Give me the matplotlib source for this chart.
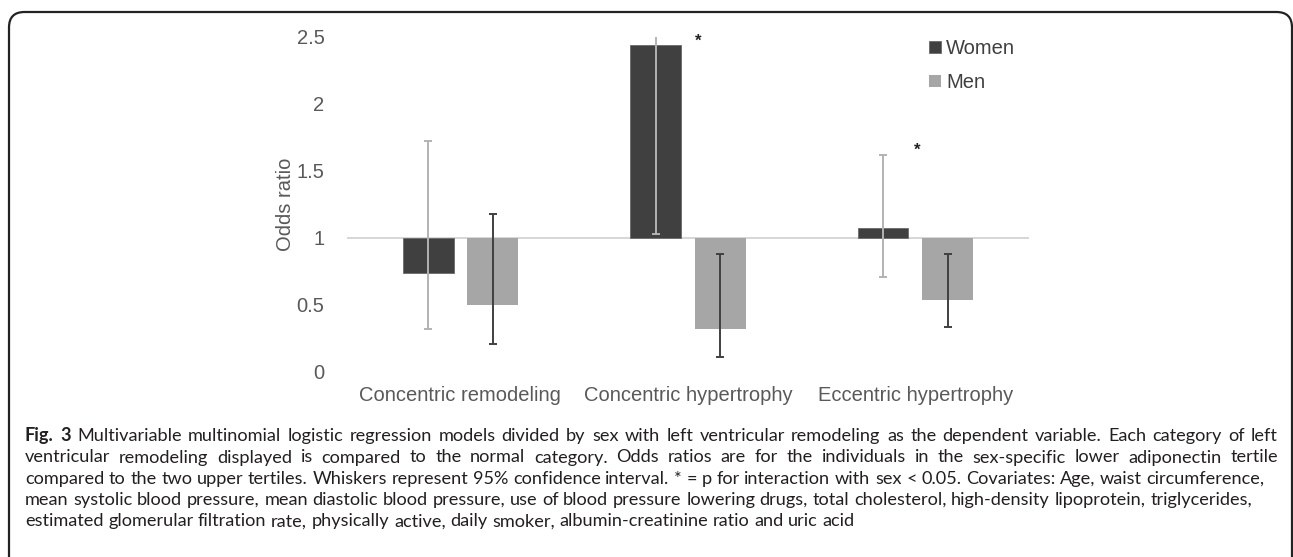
import numpy as np
import matplotlib
matplotlib.use("Agg")
import matplotlib.pyplot as plt
from matplotlib.patches import FancyBboxPatch

# Data (odds ratios, baseline = 1)
categories = ["Concentric remodeling", "Concentric hypertrophy", "Eccentric hypertrophy"]
women_or = [0.74, 2.435, 1.07]
women_lo = [0.32, 1.03, 0.71]
women_hi = [1.72, 2.60, 1.62]
men_or = [0.50, 0.32, 0.535]
men_lo = [0.21, 0.11, 0.33]
men_hi = [1.18, 0.88, 0.88]
star_x = [1.044, 2.009]
star_y = [2.465, 1.65]
yticks = [0, 0.5, 1, 1.5, 2, 2.5]
ytick_labels = ["0", "0.5", "1", "1.5", "2", "2.5"]

caption_lines = [
    "Fig. 3 Multivariable multinomial logistic regression models divided by sex with left ventricular remodeling as the dependent variable. Each category of left",
    "ventricular remodeling displayed is compared to the normal category. Odds ratios are for the individuals in the sex-specific lower adiponectin tertile",
    "compared to the two upper tertiles. Whiskers represent 95% confidence interval. * = p for interaction with sex < 0.05. Covariates: Age, waist circumference,",
    "mean systolic blood pressure, mean diastolic blood pressure, use of blood pressure lowering drugs, total cholesterol, high-density lipoprotein, triglycerides,",
    "estimated glomerular filtration rate, physically active, daily smoker, albumin-creatinine ratio and uric acid",
]
justify = [True, True, False, False, False]

W, H = 1293, 557
fig = plt.figure(figsize=(W / 100, H / 100), dpi=100)
plt.rcParams['font.family'] = ['Liberation Sans', 'DejaVu Sans']

# rounded frame around the whole figure (bottom edge runs off the image)
frame = FancyBboxPatch((9 / W, -20 / H), (1283 / W), (H - 12 + 20) / H,
                       boxstyle="round,pad=0,rounding_size=0.012",
                       transform=fig.transFigure, fill=False,
                       edgecolor="#222222", linewidth=1.6, mutation_aspect=W / H)
fig.patches.append(frame)

ax = fig.add_axes([346.7 / W, 185.3 / H, 682.3 / W, 335.0 / H])

x = np.arange(len(categories))
off = 0.142
bw = 0.224
women_c = "#404040"
men_c = "#a6a6a6"

wv = np.array(women_or)
mv = np.array(men_or)
ax.bar(x - off, wv - 1, bw, bottom=1, color=women_c, edgecolor="#6a6a6a", linewidth=0.6, label="Women", zorder=2)
ax.bar(x + off, mv - 1, bw, bottom=1, color=men_c, label="Men", zorder=2)

w_err = [wv - np.array(women_lo), np.array(women_hi) - wv]
m_err = [mv - np.array(men_lo), np.array(men_hi) - mv]
ax.errorbar(x - off, wv, yerr=w_err, fmt="none", ecolor="#b3b3b3", elinewidth=1.4, capsize=3, capthick=1.4, zorder=3)
ax.errorbar(x + off, mv, yerr=m_err, fmt="none", ecolor="#404040", elinewidth=1.4, capsize=3, capthick=1.4, zorder=3)

ax.axhline(1, color="#d0d0d0", linewidth=1.2, zorder=1)

for sx, sy in zip(star_x, star_y):
    ax.text(sx, sy, "*", ha="center", va="center", fontsize=12, color="#222222", weight="bold")

ax.set_xlim(-0.5, 2.5)
ax.set_ylim(0, 2.5)
ax.set_yticks(yticks)
ax.set_yticklabels(ytick_labels)
ax.set_xticks(x)
ax.set_xticklabels(categories)
ax.tick_params(axis="both", length=0, labelsize=14.5, labelcolor="#595959")
ax.tick_params(axis="y", pad=16)
ax.tick_params(axis="x", pad=10)
for s in ax.spines.values():
    s.set_visible(False)
ax.set_ylabel("Odds ratio", fontsize=14.5, color="#595959", labelpad=1)

leg = ax.legend(loc="upper left", bbox_to_anchor=(921 / W, 1 - 31 / H), bbox_transform=fig.transFigure,
                frameon=False, fontsize=14.5, handlelength=0.6, handleheight=0.6,
                handletextpad=0.25, labelspacing=0.75, borderaxespad=0)
for t in leg.get_texts():
    t.set_color("#404040")

# caption: font size fitted so line 4 spans the measured width, lines 1-2 justified
cap_font = "Lato"
x0, x1 = 25, 1278
line4_end = 1247
y_first = 436.7
dy = 21.3
renderer = fig.canvas.get_renderer()

probe = fig.text(0, 0, caption_lines[3], fontsize=12, family=cap_font)
cap_size = 12 * (line4_end - x0) / probe.get_window_extent(renderer).width
probe.remove()

s1 = fig.text(0, 0, "a a", fontsize=cap_size, family=cap_font)
s2 = fig.text(0, 0, "aa", fontsize=cap_size, family=cap_font)
sw = s1.get_window_extent(renderer).width - s2.get_window_extent(renderer).width
s1.remove()
s2.remove()

for i, line in enumerate(caption_lines):
    # baseline sits a little below the visual centre of the line
    ypix = H - (y_first + i * dy) - 4.5
    words = line.split(" ")
    texts = []
    for j, wd in enumerate(words):
        bold = (i == 0 and j < 2)
        t = fig.text(0, ypix / H, wd, fontsize=cap_size, family=cap_font,
                     weight="bold" if bold else "normal", color="#231f20", va="baseline", ha="left")
        texts.append(t)
    widths = [t.get_window_extent(renderer).width for t in texts]
    if justify[i]:
        gap = (x1 - x0 - sum(widths)) / (len(words) - 1)
    else:
        gap = sw
    cx = x0
    for t, wdt in zip(texts, widths):
        t.set_x(cx / W)
        cx += wdt + gap

fig.savefig("out.png", dpi=100)
